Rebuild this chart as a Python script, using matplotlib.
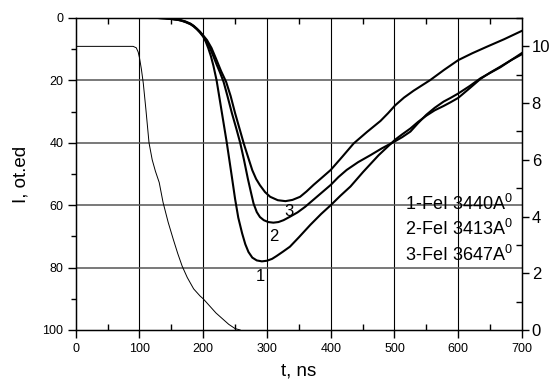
import matplotlib
matplotlib.use('Agg')
import matplotlib.pyplot as plt
from matplotlib.ticker import MultipleLocator

plt.rcParams['font.family'] = ['Liberation Sans', 'DejaVu Sans']
plt.rcParams['mathtext.fontset'] = 'custom'
plt.rcParams['mathtext.rm'] = 'Liberation Sans'
plt.rcParams['mathtext.it'] = 'Liberation Sans'

# ---- data (left axis, inverted: I, ot.ed) ----
t1 = [130, 140, 150, 158, 165, 172, 180, 185, 190, 195, 200, 204, 208, 212, 216, 221,
      225, 229, 233, 237, 241, 245, 250, 255, 261, 266, 271, 277, 284, 292, 300, 308,
      315, 325, 336, 350, 368, 385, 400, 415, 431, 451, 475, 488, 501, 512, 525, 537,
      550, 563, 577, 588, 600, 618, 635, 650, 666, 683, 700]
v1 = [0, 0.1, 0.3, 0.5, 0.8, 1.3, 2.0, 2.7, 3.6, 4.7, 6.0, 7.6, 9.7, 12.2, 15.3, 20,
      25, 30, 35, 40, 45.5, 51, 58, 64, 69, 72.5, 75, 76.8, 77.7, 78, 77.8, 77.2,
      76.3, 74.9, 73.3, 70.3, 66.3, 62.8, 60, 57, 54, 49.3, 44, 41.5, 39, 37.3, 35.4, 33.3,
      31.3, 29.6, 28.2, 27.0, 25.6, 22.5, 19.5, 17.5, 15.6, 13.5, 11.6]

t2 = [130, 140, 150, 158, 165, 172, 180, 185, 190, 195, 200, 205, 211, 216, 221, 226,
      232, 238, 245, 252, 258, 264, 270, 275, 279, 284, 289, 295, 302, 310, 318, 326,
      336, 348, 360, 380, 400, 412, 425, 443, 462, 480, 501, 512, 525, 537, 550, 563,
      577, 588, 600, 618, 635, 650, 666, 683, 700]
v2 = [0, 0.1, 0.3, 0.5, 0.8, 1.2, 1.9, 2.6, 3.5, 4.5, 5.8, 7.3, 9.8, 12.3, 14.9, 17.3,
      20.5, 25, 30.5, 35.5, 40, 45.5, 51.5, 56, 59.5, 62.2, 63.8, 64.8, 65.4, 65.6, 65.4, 64.8,
      63.7, 62.3, 60.5, 57, 53.5, 51, 48.7, 46.2, 44, 41.8, 39.5, 38.2, 36.4, 33.7, 31.0, 28.8,
      26.8, 25.6, 24.2, 21.8, 19.3, 17.6, 15.8, 13.5, 11.2]

t3 = [130, 140, 150, 158, 165, 172, 180, 185, 190, 195, 200, 206, 213, 220, 228, 236,
      243, 250, 257, 264, 271, 277, 283, 289, 297, 305, 317, 329, 340, 352, 362, 373,
      386, 400, 418, 436, 457, 478, 490, 501, 515, 530, 556, 578, 600, 622, 645, 672, 700]
v3 = [0, 0.1, 0.3, 0.5, 0.7, 1.1, 1.8, 2.5, 3.4, 4.4, 5.6, 7.1, 9.6, 13, 17, 20.5,
      25, 30.5, 35.5, 40.5, 45, 48.8, 51.6, 53.6, 55.8, 57.3, 58.4, 58.7, 58.3, 57.3, 55.6, 53.5,
      51.2, 48.7, 44.5, 40.2, 36.5, 33, 30.5, 28, 25.5, 23.3, 19.9, 16.6, 13.5, 11.3, 9.2, 6.8, 4.1]

# ---- data (right axis) ----
tp = [0, 90, 95, 98, 100, 103, 106, 110, 115, 120, 125, 131, 137, 145, 153, 160, 167,
      175, 185, 195, 200, 210, 220, 230, 240, 250, 258]
vp = [10, 10, 9.95, 9.8, 9.6, 9.2, 8.7, 7.8, 6.6, 6.0, 5.6, 5.2, 4.5, 3.8, 3.2, 2.7, 2.25,
      1.85, 1.45, 1.2, 1.1, 0.85, 0.6, 0.4, 0.2, 0.05, 0]

curve_labels = ['1', '2', '3']
curve_label_pos = [(289, 83), (310, 70), (334, 62)]
legend_lines = ['1-FeI 3440A$^0$', '2-FeI 3413A$^0$', '3-FeI 3647A$^0$']

fig = plt.figure(figsize=(5.51, 3.83), dpi=100)
ax = fig.add_axes([75.7 / 551, 1 - 330 / 383, (522 - 75.7) / 551, (330 - 18) / 383])

for x in range(100, 700, 100):
    ax.axvline(x, color='black', lw=0.8, zorder=1)
for y in [20, 40, 60, 80]:
    ax.axhline(y, color='#555555', lw=1.1, zorder=1)

for t, v in [(t1, v1), (t2, v2), (t3, v3)]:
    ax.plot(t, v, color='black', lw=1.5, zorder=3, solid_joinstyle='round')

for lab, (x, y) in zip(curve_labels, curve_label_pos):
    ax.text(x, y, lab, fontsize=12, ha='center', va='center', zorder=4)

for i, s in enumerate(legend_lines):
    ax.text(517, 61.5 + 8.2 * i, s, fontsize=13, ha='left', va='baseline', zorder=4)

ax.set_xlim(0, 700)
ax.set_ylim(100, 0)
ax.xaxis.set_major_locator(MultipleLocator(100))
ax.xaxis.set_minor_locator(MultipleLocator(50))
ax.yaxis.set_major_locator(MultipleLocator(20))
ax.yaxis.set_minor_locator(MultipleLocator(10))
ax.tick_params(which='major', direction='out', length=6, width=1, labelsize=9, pad=3)
ax.tick_params(which='minor', direction='out', length=3.5, width=1)
ax.tick_params(axis='x', which='minor', top=True, direction='in', length=4)
ax.set_xlabel('t, ns', fontsize=13.5, labelpad=6)
ax.set_ylabel('I, ot.ed', fontsize=13.5, labelpad=9)
for sp in ax.spines.values():
    sp.set_linewidth(1.0)

ax2 = ax.twinx()
ax2.plot(tp, vp, color='black', lw=0.7)
ax2.set_ylim(0, 11.0)
ax2.yaxis.set_major_locator(MultipleLocator(2))
ax2.yaxis.set_minor_locator(MultipleLocator(1))
ax2.tick_params(which='major', direction='out', length=5, width=1, labelsize=12, pad=2)
ax2.tick_params(which='minor', direction='in', length=4, width=1)

fig.savefig('out.png', dpi=100)
